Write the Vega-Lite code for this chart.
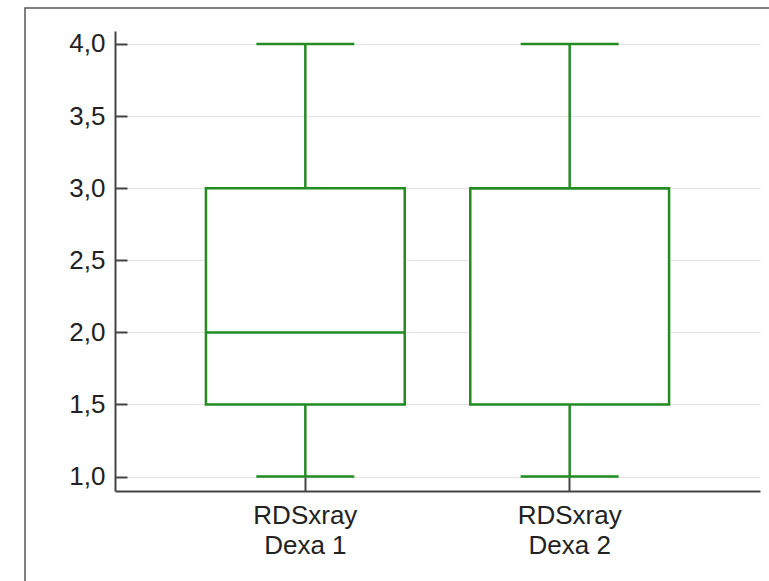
{
  "$schema": "https://vega.github.io/schema/vega-lite/v6.json",
  "autosize": "none",
  "padding": {"left": 25, "top": 8, "right": 0, "bottom": 0},
  "width": 760,
  "height": 600,
  "background": "white",
  "config": {
    "view": {"stroke": "#555555", "strokeWidth": 1.5},
    "font": "Liberation Sans"
  },
  "data": {
    "values": [
      {"group": "RDSxray Dexa 1", "min": 1, "q1": 1.5, "median": 2, "q3": 3, "max": 4},
      {"group": "RDSxray Dexa 2", "min": 1, "q1": 1.5, "median": 3, "q3": 3, "max": 4}
    ]
  },
  "encoding": {
    "x": {
      "field": "group",
      "type": "nominal",
      "sort": null,
      "scale": {"range": [90, 735], "paddingInner": 0, "paddingOuter": 0.22},
      "axis": {
        "title": null,
        "orient": "bottom",
        "offset": -117,
        "labelAngle": 0,
        "labelExpr": "['RDSxray', replace(datum.label, 'RDSxray ', '')]",
        "labelFont": "Liberation Sans",
        "labelFontSize": 26,
        "labelLineHeight": 30,
        "labelColor": "#222222",
        "labelPadding": 25,
        "labelBaseline": "top",
        "domainColor": "#444444",
        "domainWidth": 2,
        "tickColor": "#444444",
        "tickWidth": 2,
        "tickSize": -14,
        "grid": false
      }
    }
  },
  "layer": [
    {
      "mark": {"type": "rule", "color": "#228b22", "strokeWidth": 2.5},
      "encoding": {
        "y": {
          "field": "min",
          "type": "quantitative",
          "scale": {"domain": [0.9, 4.09], "range": [483, 23], "nice": false, "zero": false},
          "axis": {
            "title": null,
            "orient": "left",
            "offset": -90,
            "values": [1, 1.5, 2, 2.5, 3, 3.5, 4],
            "labelExpr": "replace(format(datum.value, '.1f'), '.', ',')",
            "labelFont": "Liberation Sans",
            "labelFontSize": 26,
            "labelColor": "#222222",
            "labelPadding": 22,
            "domainColor": "#444444",
            "domainWidth": 2,
            "tickColor": "#444444",
            "tickWidth": 2,
            "tickSize": -12,
            "grid": true,
            "gridColor": "#e2e2e2",
            "gridWidth": 1
          }
        },
        "y2": {"field": "q1"}
      }
    },
    {
      "mark": {"type": "rule", "color": "#228b22", "strokeWidth": 2.5},
      "encoding": {
        "y": {"field": "q3", "type": "quantitative"},
        "y2": {"field": "max"}
      }
    },
    {
      "mark": {"type": "bar", "fill": "white", "stroke": "#228b22", "strokeWidth": 2.5, "width": {"band": 0.752}},
      "encoding": {
        "y": {"field": "q1", "type": "quantitative"},
        "y2": {"field": "q3"}
      }
    },
    {
      "mark": {"type": "tick", "color": "#228b22", "opacity": 1, "thickness": 2.5, "size": 199},
      "encoding": {
        "y": {"field": "median", "type": "quantitative"}
      }
    },
    {
      "mark": {"type": "tick", "color": "#228b22", "opacity": 1, "thickness": 2.5, "size": 98},
      "encoding": {
        "y": {"field": "min", "type": "quantitative"}
      }
    },
    {
      "mark": {"type": "tick", "color": "#228b22", "opacity": 1, "thickness": 2.5, "size": 98},
      "encoding": {
        "y": {"field": "max", "type": "quantitative"}
      }
    }
  ]
}
